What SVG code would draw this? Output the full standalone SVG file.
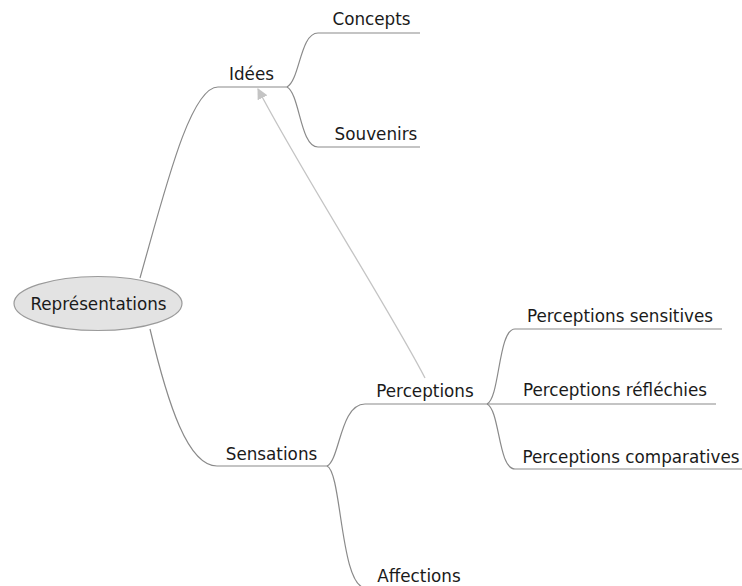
<svg xmlns="http://www.w3.org/2000/svg" width="742" height="586" viewBox="0 0 742 586">
<defs>
<style>
.t{font-family:"DejaVu Sans","Liberation Sans",sans-serif;font-size:16.8px;fill:#1a1a1a}
.l{fill:none;stroke:#8a8a8a;stroke-width:1.2}
</style>
<marker id="ah" viewBox="0 0 10 10" refX="9" refY="5" markerWidth="11" markerHeight="11" markerUnits="userSpaceOnUse" orient="auto">
<path d="M0,0 L10,5 L0,10 z" fill="#c4c4c4"/>
</marker>
</defs>
<rect width="742" height="586" fill="#fff"/>
<g id="connectors">
<path class="l" d="M140,278 C165,190 190,87 218,87 L287,87"/>
<path class="l" d="M150,329 C168,405 188,466 217,466 L327,466"/>
<path class="l" d="M287,87 C300,80 300,33 318,33 L420,33"/>
<path class="l" d="M287,87 C300,94 300,147 318,147 L420,147"/>
<path class="l" d="M327,466 C340,460 340,404 365,404 L487,404"/>
<path class="l" d="M327,466 C342,472 340,588 366,588"/>
<path class="l" d="M487,404 C500,398 498,329 515,329 L722,329"/>
<path class="l" d="M487,404 L716,404"/>
<path class="l" d="M487,404 C500,410 498,469 515,469 L742,469"/>
<path d="M425,378 C390,310 300,170 258,89" fill="none" stroke="#c4c4c4" stroke-width="1.3" marker-end="url(#ah)"/>
</g>
<g id="n-representations">
<ellipse cx="98" cy="303.5" rx="84" ry="27" fill="#e3e3e3" stroke="#9a9a9a" stroke-width="1.2"/>
<text class="t" x="98.5" y="310" text-anchor="middle">Représentations</text>
</g>
<g id="n-idees"><text class="t" x="251.5" y="80" text-anchor="middle">Idées</text></g>
<g id="n-concepts"><text class="t" x="371.5" y="25" text-anchor="middle">Concepts</text></g>
<g id="n-souvenirs"><text class="t" x="376" y="140" text-anchor="middle">Souvenirs</text></g>
<g id="n-sensations"><text class="t" x="271.5" y="460" text-anchor="middle">Sensations</text></g>
<g id="n-perceptions"><text class="t" x="425" y="397" text-anchor="middle">Perceptions</text></g>
<g id="n-affections"><text class="t" x="419" y="582" text-anchor="middle">Affections</text></g>
<g id="n-p-sensitives"><text class="t" x="620" y="322" text-anchor="middle">Perceptions sensitives</text></g>
<g id="n-p-reflechies"><text class="t" x="615" y="396" text-anchor="middle">Perceptions réfléchies</text></g>
<g id="n-p-comparatives"><text class="t" x="631" y="463" text-anchor="middle">Perceptions comparatives</text></g>
</svg>
